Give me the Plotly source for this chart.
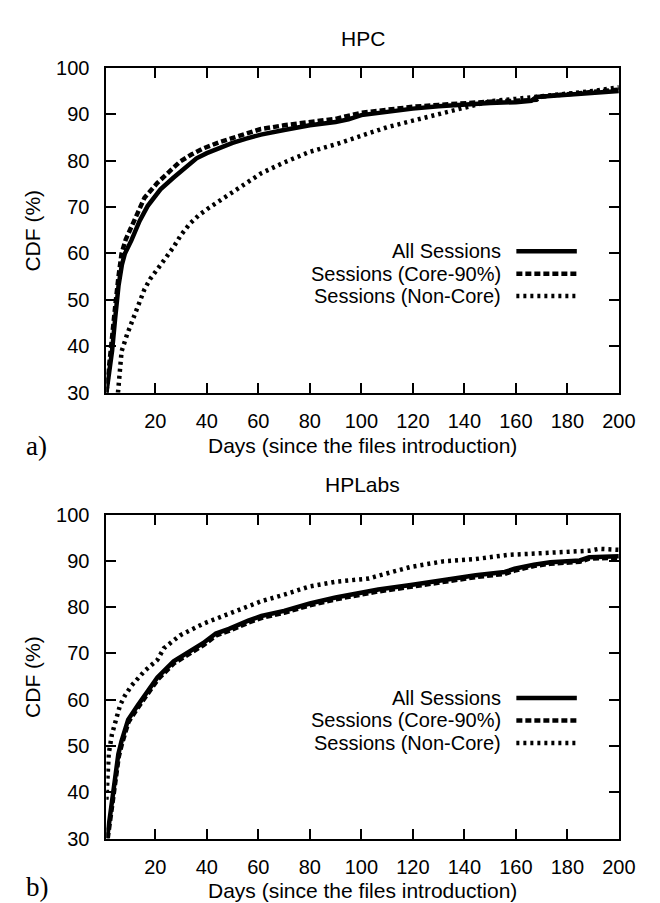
import plotly.graph_objects as go

# ---------------- data ----------------
hpc_all_x = [1, 2, 3.2, 4.4, 5.7, 7, 8.2, 10.7, 13.9, 17, 22, 27, 32, 36, 40, 45, 50, 55, 61, 70, 80, 90, 95, 100,
             110, 120, 130, 140, 150, 160, 166, 168, 175, 180, 190, 200]
hpc_all_y = [30, 34, 39, 46, 53, 57.5, 60, 62.8, 67, 70.2, 73.8, 76.3, 78.5, 80.5, 81.6, 82.8, 83.8, 84.7, 85.6,
             86.6, 87.6, 88.3, 88.9, 89.8, 90.6, 91.2, 91.7, 92.1, 92.4, 92.6, 92.9, 93.7, 94.0, 94.2, 94.6, 95.0]

hpc_core_x = [1, 2, 3, 4.5, 5.7, 6.9, 8.5, 10.7, 13, 15.8, 20.8, 25, 29.6, 34, 38.5, 45, 50, 55, 61, 70, 80, 90,
              100, 110, 120, 130, 140, 150, 160, 168, 170, 180, 190, 200]
hpc_core_y = [30, 36, 42, 49, 55, 60, 63, 65.7, 69, 72, 75.2, 77.5, 79.8, 81.3, 82.6, 84, 84.9, 85.8, 86.8, 87.6,
              88.3, 89, 90.3, 91, 91.6, 92, 92.4, 92.7, 92.9, 93.1, 93.8, 94.3, 94.8, 95.3]

hpc_non_x = [5.5, 6.9, 9, 11.3, 13.5, 15.8, 18, 20.8, 24, 27.1, 30, 33.4, 37, 41, 45, 48.6, 55, 61.2, 70, 80, 90,
             100, 110, 120, 130, 140, 145, 150, 160, 170, 180, 190, 200]
hpc_non_y = [30, 38.9, 42.5, 45.9, 49.3, 52.3, 54.5, 56.5, 59, 61.4, 64, 66.4, 68.3, 69.9, 71.4, 72.7, 75, 77.3,
             79.6, 81.9, 83.5, 85.3, 87.2, 88.6, 90, 91.3, 92.2, 92.8, 93.3, 93.8, 94.4, 95, 95.8]

hpl_all_x = [1.25, 3.15, 4.4, 5.65, 6.9, 9.45, 13.2, 17, 20.8, 27.1, 33.4, 38.5, 43.5, 48.6, 56.1, 61.2, 70, 80,
             90, 100, 106.6, 119.2, 131.8, 144.4, 155.7, 159.5, 167, 173.4, 184.8, 188.5, 200]
hpl_all_y = [30, 38.4, 44.1, 48.3, 51.1, 55.7, 58.8, 62, 64.8, 68.3, 70.4, 72.2, 74.3, 75.3, 77.1, 78.1, 79.2,
             80.8, 82.1, 83.1, 83.8, 84.8, 85.9, 86.9, 87.6, 88.3, 89.2, 89.7, 90.1, 90.8, 91.0]

hpl_core_x = [1.5, 3.3, 4.6, 5.8, 7.1, 9.6, 13.4, 17.2, 21, 27.3, 33.6, 38.7, 43.7, 48.8, 56.3, 61.4, 70, 80,
              90, 100, 106.6, 119.2, 131.8, 144.4, 155.7, 159.5, 167, 173.4, 184.8, 188.5, 200]
hpl_core_y = [30, 37.6, 43.4, 47.7, 50.6, 55.2, 58.4, 61.6, 64.4, 67.9, 70.0, 71.8, 73.9, 74.9, 76.7, 77.7, 78.8,
              80.4, 81.7, 82.7, 83.4, 84.4, 85.5, 86.5, 87.2, 87.9, 88.9, 89.4, 89.8, 90.5, 90.7]

hpl_non_x = [1, 1.9, 3.15, 4.4, 6.3, 8.2, 10.7, 15.8, 20.8, 23.3, 29.6, 38.5, 48.6, 61.2, 70, 80, 90, 100, 103,
             106.6, 119.2, 131.8, 144.4, 157, 169.7, 182.3, 188.5, 192.3, 200]
hpl_non_y = [38.4, 48.3, 52.5, 55.3, 58.8, 60.9, 63, 66.2, 68.6, 71.1, 73.9, 76.4, 78.5, 81.3, 82.7, 84.5, 85.5,
             86.0, 86.2, 86.8, 88.7, 89.9, 90.4, 91.3, 91.7, 92.0, 92.2, 92.6, 92.4]

series_names = ["All Sessions", "Sessions (Core-90%)", "Sessions (Non-Core)"]
titles = ["HPC", "HPLabs"]
x_ticks = [20, 40, 60, 80, 100, 120, 140, 160, 180, 200]
y_ticks = [30, 40, 50, 60, 70, 80, 90, 100]

# ---------------- styling ----------------
W, H = 660, 903
FONT = "Liberation Sans"
FS = 21
LW = 4.5
dashes = ["solid", "6px,3px", "3px,4px"]

x_left, x_right = 101, 627
panels = [
    dict(top=50, bottom=383, data=[(hpc_all_x, hpc_all_y), (hpc_core_x, hpc_core_y), (hpc_non_x, hpc_non_y)],
         title_y=20, xlabel_y=437, tag="a)", tag_xy=(29, 438), legend_rows=[238, 261, 284]),
    dict(top=508, bottom=840, data=[(hpl_all_x, hpl_all_y), (hpl_core_x, hpl_core_y), (hpl_non_x, hpl_non_y)],
         title_y=477, xlabel_y=893, tag="b)", tag_xy=(30, 890), legend_rows=[696, 719, 742]),
]

fig = go.Figure()
annotations = []
shapes = []

def py(v):
    return 1 - v / H

def px(v):
    return v / W

for i, p in enumerate(panels):
    n = "" if i == 0 else str(i + 1)
    xa, ya = "x" + n, "y" + n
    for (xs, ys), name, dash in zip(p["data"], series_names, dashes):
        fig.add_trace(go.Scatter(x=xs, y=ys, mode="lines", name=name, xaxis=xa, yaxis=ya,
                                 line=dict(color="black", width=LW, dash=dash), showlegend=False))
    axis_common = dict(showgrid=False, zeroline=False, showline=True, linecolor="black", linewidth=2,
                       mirror="ticks", ticks="inside", ticklen=10, tickwidth=2, tickcolor="black",
                       tickfont=dict(family=FONT, size=20, color="black"))
    fig.layout["xaxis" + n] = dict(domain=[px(x_left), px(x_right)], range=[1, 200], tickvals=x_ticks,
                                   anchor=ya, ticklabelstandoff=9, **axis_common)
    fig.layout["yaxis" + n] = dict(domain=[py(p["bottom"]), py(p["top"])], range=[30, 100], tickvals=y_ticks,
                                   anchor=xa, ticklabelstandoff=11, **axis_common)
    cx = (x_left + x_right) / 2
    annotations.append(dict(text=titles[i], x=px(cx), y=py(p["title_y"]), xref="paper", yref="paper",
                            showarrow=False, xanchor="center", yanchor="middle",
                            font=dict(family=FONT, size=FS, color="black")))
    annotations.append(dict(text="Days (since the files introduction)", x=px(cx), y=py(p["xlabel_y"]),
                            xref="paper", yref="paper", showarrow=False, xanchor="center", yanchor="middle",
                            font=dict(family=FONT, size=FS, color="black")))
    annotations.append(dict(text="CDF (%)", x=px(25), y=py((p["top"] + p["bottom"]) / 2), textangle=-90,
                            xref="paper", yref="paper", showarrow=False, xanchor="center", yanchor="middle",
                            font=dict(family=FONT, size=FS, color="black")))
    annotations.append(dict(text=p["tag"], x=px(p["tag_xy"][0]), y=py(p["tag_xy"][1]), xref="paper",
                            yref="paper", showarrow=False, xanchor="center", yanchor="middle",
                            font=dict(family="Liberation Serif", size=27, color="black")))
    # legend (gnuplot style: text left, sample right)
    hgt = p["bottom"] - p["top"]
    for name, dash, ry_px in zip(series_names, dashes, p["legend_rows"]):
        ry = (p["bottom"] - ry_px) / hgt
        annotations.append(dict(text=name, x=0.772, y=ry, xref=xa + " domain", yref=ya + " domain",
                                showarrow=False, xanchor="right", yanchor="middle", borderpad=0,
                                font=dict(family=FONT, size=20, color="black")))
        shapes.append(dict(type="line", x0=0.800, x1=0.918, y0=ry, y1=ry, xref=xa + " domain",
                           yref=ya + " domain", line=dict(color="black", width=LW, dash=dash)))

fig.update_layout(width=W, height=H, margin=dict(l=0, r=0, t=0, b=0), paper_bgcolor="white",
                  plot_bgcolor="white", annotations=annotations, shapes=shapes, showlegend=False)

fig.write_html("out.html")
